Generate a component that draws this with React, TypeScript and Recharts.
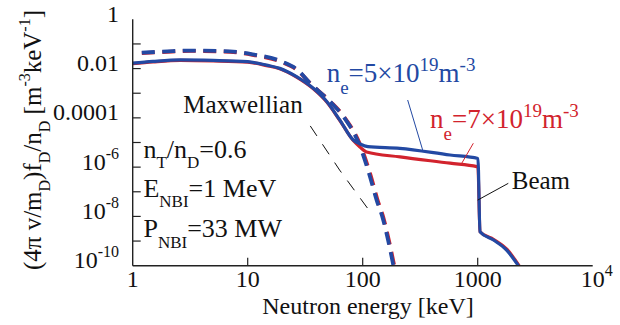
import React from 'react';
import { LineChart, Line, XAxis, YAxis, ReferenceLine, ReferenceDot } from 'recharts';

const BLUE = '#2349a3';
const RED = '#d2232d';
const AX = '#222222';
const FONT = "'Liberation Serif', 'Times New Roman', Times, 'DejaVu Serif', serif";
const TICK = 8;

// Axis ticks
const xTicks = [1, 10, 100, 1000, 10000];
const xTickLabels = ['1', '10', '100', '1000', '10^4'];
const yTicks = [1, 1e-1, 1e-2, 1e-3, 1e-4, 1e-5, 1e-6, 1e-7, 1e-8, 1e-9, 1e-10];
const yTickLabels = ['1', '', '0.01', '', '0.0001', '', '10^-6', '', '10^-8', '', '10^-10'];

// n_e = 5e19, total (thermal + beam)
const blueE = [1, 1.5, 2.6, 5, 10, 14.6, 19, 26.6, 37.2, 48.7, 63.3, 82.8, 94.9, 111, 210, 575, 1005, 1047, 1372, 1775, 2260];
const blueF = [1.66e-2, 1.95e-2, 2.24e-2, 2.14e-2, 1.9e-2, 1.38e-2, 1.02e-2, 4.7e-3, 1.58e-3, 4.6e-4, 8.1e-5, 1.26e-5, 8.7e-6, 6.8e-6, 5.8e-6, 3.1e-6, 2.24e-6, 2.4e-9, 1.1e-9, 4.4e-10, 1.0e-10];

// n_e = 7e19, total
const redE = [1, 1.5, 2.6, 5, 10, 14.6, 19, 26.6, 37.2, 48.7, 63.3, 82.8, 94.6, 108, 211, 575, 982, 1005, 1047, 1380, 1790, 2290];
const redF = [1.58e-2, 1.86e-2, 2.14e-2, 2.04e-2, 1.82e-2, 1.32e-2, 9.8e-3, 4.5e-3, 1.51e-3, 4.4e-4, 7.8e-5, 1.2e-5, 6.6e-6, 4.1e-6, 2.6e-6, 1.45e-6, 1.05e-6, 1.0e-6, 2.4e-9, 1.15e-9, 4.7e-10, 1.0e-10];

// thermal only (dashed)
const blueDashE = [1.2, 2, 3.2, 7, 11, 20, 27, 35, 52, 68, 95, 115, 132, 150, 166, 185];
const blueDashF = [4.4e-2, 5.0e-2, 5.4e-2, 5.0e-2, 3.8e-2, 1.9e-2, 9.0e-3, 2.5e-3, 4.6e-4, 1.12e-4, 6.8e-6, 4.5e-7, 4.7e-8, 7.9e-9, 1.12e-9, 1.0e-10];
const redDashE = [1.2, 2, 3.2, 7, 11, 20, 27, 35, 52, 68, 96, 117, 134, 152, 168, 188];
const redDashF = [4.2e-2, 4.8e-2, 5.2e-2, 4.8e-2, 3.6e-2, 1.8e-2, 8.6e-3, 2.5e-3, 4.7e-4, 1.2e-4, 7.2e-6, 4.8e-7, 5.0e-8, 8.3e-9, 1.2e-9, 1.0e-10];

// Maxwellian
const maxwE = [35, 63, 116];
const maxwF = [4.7e-5, 7.6e-7, 1.55e-8];

const toData = (e: number[], f: number[]) => e.map((x, i) => ({ E: x, f: f[i] }));

const W = 620;
const H = 325;
const PLOT = { left: 132.7, top: 19.3, right: 592.7, bottom: 265.7 };

type Seg = [string, 'n' | 'b' | 'p'];

const txtStyle = { fontFamily: FONT };

function Rich(props: {
  x: number; y: number; segs: Seg[]; size: number; small: number; sub: number; sup: number;
  fill?: string; anchor?: 'start' | 'middle' | 'end'; transform?: string;
}) {
  const { x, y, segs, size, small, sub, sup, fill = '#111', anchor = 'start', transform } = props;
  let cur = 0;
  const spans = segs.map(([t, k], i) => {
    const target = k === 'b' ? sub : k === 'p' ? -sup : 0;
    const dy = target - cur;
    cur = target;
    return (
      <tspan key={i} dy={dy} fontSize={k === 'n' ? size : small}>
        {t}
      </tspan>
    );
  });
  return (
    <text x={x} y={y} fill={fill} style={txtStyle} fontSize={size} textAnchor={anchor} transform={transform}>
      {spans}
    </text>
  );
}

const findIdx = (arr: number[], v: number) => arr.findIndex((a) => Math.abs(a - v) <= a * 1e-6);

const BottomTick = (p: any) => {
  const { x, y, payload } = p;
  const i = findIdx(xTicks, payload.value);
  const lab = xTickLabels[i] ?? '';
  const edge = i === 0 || i === xTicks.length - 1;
  const [base, exp] = lab.split('^');
  return (
    <g>
      {!edge && <line x1={x} x2={x} y1={y} y2={y - TICK} stroke={AX} strokeWidth={1.2} />}
      {exp ? (
        <text x={x - 12} y={y + 21.5} fontSize={24} style={txtStyle} fill="#111">
          {base}
          <tspan dy={-11} fontSize={16}>{exp}</tspan>
        </text>
      ) : (
        <text x={x} y={y + 21.5} fontSize={24} style={txtStyle} fill="#111" textAnchor="middle">
          {lab}
        </text>
      )}
    </g>
  );
};

const TopTick = (p: any) => {
  const { x, y, payload } = p;
  const i = findIdx(xTicks, payload.value);
  const edge = i === 0 || i === xTicks.length - 1;
  return <g>{!edge && <line x1={x} x2={x} y1={y} y2={y + TICK} stroke={AX} strokeWidth={1.2} />}</g>;
};

const LeftTick = (p: any) => {
  const { x, y, payload } = p;
  const i = findIdx(yTicks, payload.value);
  const lab = yTickLabels[i] ?? '';
  const edge = i === 0 || i === yTicks.length - 1;
  const [base, exp] = lab.split('^');
  return (
    <g>
      {!edge && <line x1={x} x2={x + TICK} y1={y} y2={y} stroke={AX} strokeWidth={1.2} />}
      {lab && (
        <text x={x - 13.7} y={y + 2.5} fontSize={24} style={txtStyle} fill="#111" textAnchor="end">
          {base}
          {exp && <tspan dy={-11} fontSize={16}>{exp}</tspan>}
        </text>
      )}
    </g>
  );
};

const RightTick = (p: any) => {
  const { x, y, payload } = p;
  const i = findIdx(yTicks, payload.value);
  const edge = i === 0 || i === yTicks.length - 1;
  return <g>{!edge && <line x1={x} x2={x - TICK} y1={y} y2={y} stroke={AX} strokeWidth={1.2} />}</g>;
};

const XTitle = () => (
  <text x={368} y={314} textAnchor="middle" style={txtStyle} fontSize={24} fill="#111">
    Neutron energy [keV]
  </text>
);

const YTitle = () => {
  const cx = 41;
  const cy = 140;
  return (
    <Rich
      x={cx}
      y={cy}
      anchor="middle"
      transform={`rotate(-90, ${cx}, ${cy})`}
      size={25}
      small={16}
      sub={9}
      sup={11}
      segs={[
        ['(4\u03c0 v/m', 'n'], ['D', 'b'], [')f', 'n'], ['D', 'b'], ['/n', 'n'], ['D', 'b'],
        [' [m', 'n'], ['-3', 'p'], ['keV', 'n'], ['-1', 'p'], [']', 'n'],
      ]}
    />
  );
};

const annot = (segs: Seg[], opts: { size: number; small: number; sub: number; sup: number; fill?: string }) =>
  (p: any) => <Rich x={p.cx} y={p.cy} segs={segs} {...opts} />;

export default function App() {
  const ids = { xAxisId: 'b', yAxisId: 'l' };
  return (
    <div style={{ position: 'absolute', left: 0, top: 0, width: W, height: H, background: '#fff' }}>
      <LineChart
        width={W}
        height={H}
        margin={{ top: PLOT.top, right: W - PLOT.right, bottom: 0, left: 0 }}
      >
        <XAxis
          xAxisId="b"
          dataKey="E"
          type="number"
          scale="log"
          domain={[1, 10000]}
          allowDataOverflow
          ticks={xTicks}
          interval={0}
          height={H - PLOT.bottom}
          tickSize={0}
          tickMargin={0}
          tickLine={false}
          tick={BottomTick}
          axisLine={{ stroke: AX, strokeWidth: 1.4 }}
          label={{ content: XTitle }}
        />
        <XAxis
          xAxisId="t"
          orientation="top"
          dataKey="E"
          type="number"
          scale="log"
          domain={[1, 10000]}
          allowDataOverflow
          ticks={xTicks}
          interval={0}
          height={0}
          tickSize={0}
          tickMargin={0}
          tickLine={false}
          tick={TopTick}
          axisLine={{ stroke: AX, strokeWidth: 1.4 }}
        />
        <YAxis
          yAxisId="l"
          type="number"
          scale="log"
          domain={[1e-10, 1]}
          allowDataOverflow
          ticks={yTicks}
          interval={0}
          width={PLOT.left}
          tickSize={0}
          tickMargin={0}
          tickLine={false}
          tick={LeftTick}
          axisLine={{ stroke: AX, strokeWidth: 1.4 }}
          label={{ content: YTitle }}
        />
        <YAxis
          yAxisId="r"
          orientation="right"
          type="number"
          scale="log"
          domain={[1e-10, 1]}
          allowDataOverflow
          ticks={yTicks}
          interval={0}
          width={0}
          tickSize={0}
          tickMargin={0}
          tickLine={false}
          tick={RightTick}
          axisLine={{ stroke: AX, strokeWidth: 1.4 }}
        />

        <Line {...ids} data={toData(maxwE, maxwF)} dataKey="f" type="linear" stroke="#111" strokeWidth={1} strokeDasharray="12 10" dot={false} activeDot={false} isAnimationActive={false} />
        <Line {...ids} data={toData(redDashE, redDashF)} dataKey="f" type="monotone" stroke={RED} strokeWidth={3.8} strokeDasharray="13 7.5" dot={false} activeDot={false} isAnimationActive={false} />
        <Line {...ids} data={toData(blueDashE, blueDashF)} dataKey="f" type="monotone" stroke={BLUE} strokeWidth={3.8} strokeDasharray="13 7.5" dot={false} activeDot={false} isAnimationActive={false} />
        <Line {...ids} data={toData(redE, redF)} dataKey="f" type="monotone" stroke={RED} strokeWidth={3.2} dot={false} activeDot={false} isAnimationActive={false} />
        <Line {...ids} data={toData(blueE, blueF)} dataKey="f" type="monotone" stroke={BLUE} strokeWidth={3.2} dot={false} activeDot={false} isAnimationActive={false} />

        <ReferenceLine {...ids} segment={[{ x: 246, y: 5.3e-4 }, { x: 332, y: 5.0e-6 }]} stroke={BLUE} strokeWidth={1} />
        <ReferenceLine {...ids} segment={[{ x: 916, y: 9.3e-6 }, { x: 726, y: 1.43e-6 }]} stroke={RED} strokeWidth={1} />
        <ReferenceLine {...ids} segment={[{ x: 1845, y: 2.2e-7 }, { x: 1000, y: 4.6e-8 }]} stroke="#111" strokeWidth={1} />

        <ReferenceDot {...ids} x={2.75} y={1.53e-4} r={0} shape={annot([['Maxwellian', 'n']], { size: 25, small: 16, sub: 9, sup: 11 })} />
        <ReferenceDot {...ids} x={48.6} y={2.9e-3} r={0} shape={annot([['n', 'n'], ['e', 'b'], ['=5\u00d710', 'n'], ['19', 'p'], ['m', 'n'], ['-3', 'p']], { size: 27, small: 19, sub: 12, sup: 11, fill: BLUE })} />
        <ReferenceDot {...ids} x={385} y={3.8e-5} r={0} shape={annot([['n', 'n'], ['e', 'b'], ['=7\u00d710', 'n'], ['19', 'p'], ['m', 'n'], ['-3', 'p']], { size: 27, small: 19, sub: 12, sup: 11, fill: RED })} />
        <ReferenceDot {...ids} x={1977} y={1.26e-7} r={0} shape={annot([['Beam', 'n']], { size: 25, small: 16, sub: 9, sup: 11 })} />
        <ReferenceDot {...ids} x={1.24} y={2.29e-6} r={0} shape={annot([['n', 'n'], ['T', 'b'], ['/n', 'n'], ['D', 'b'], ['=0.6', 'n']], { size: 26, small: 17, sub: 10, sup: 11 })} />
        <ReferenceDot {...ids} x={1.24} y={6.3e-8} r={0} shape={annot([['E', 'n'], ['NBI', 'b'], ['=1 MeV', 'n']], { size: 26, small: 17, sub: 10, sup: 11 })} />
        <ReferenceDot {...ids} x={1.24} y={1.5e-9} r={0} shape={annot([['P', 'n'], ['NBI', 'b'], ['=33 MW', 'n']], { size: 26, small: 17, sub: 11, sup: 11 })} />
      </LineChart>
    </div>
  );
}
